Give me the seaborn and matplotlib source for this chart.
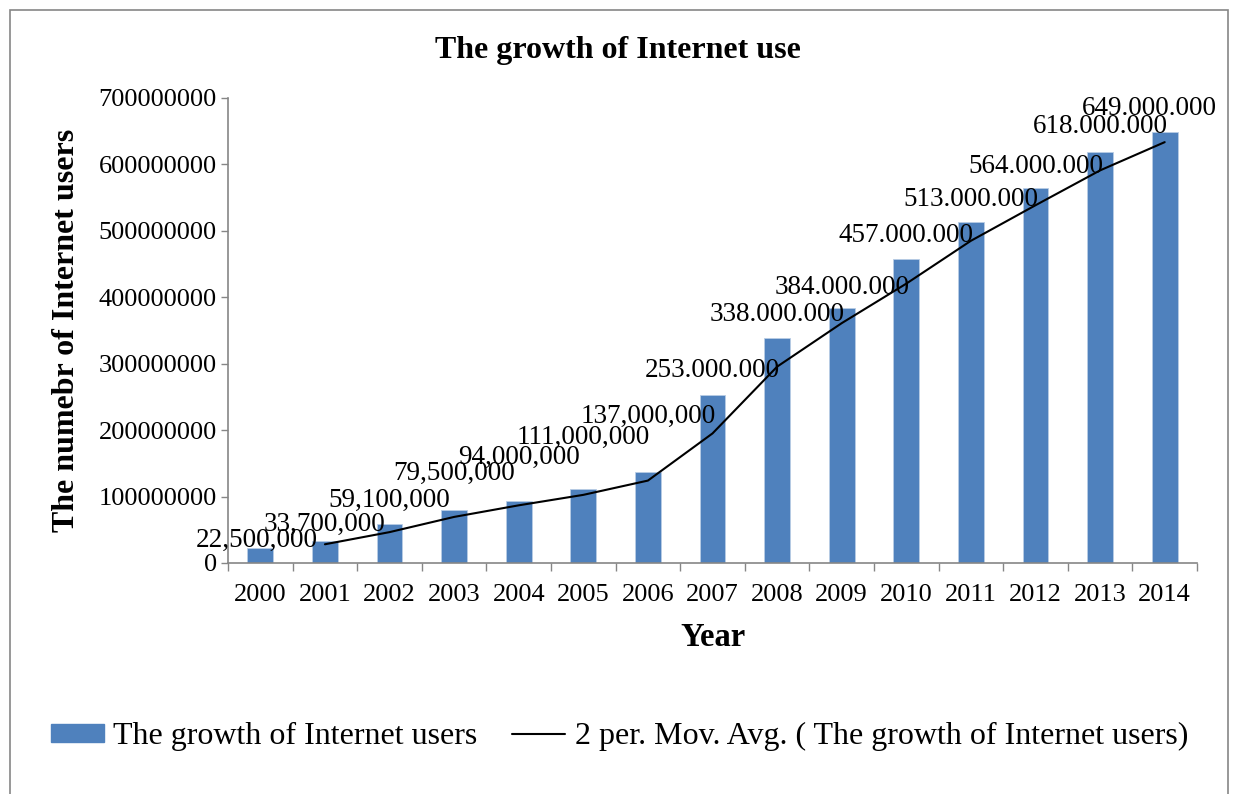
import numpy as np
import pandas as pd
import matplotlib.pyplot as plt
import seaborn as sns
from matplotlib.patches import Rectangle, Patch
from matplotlib.lines import Line2D
from matplotlib.ticker import FixedLocator

years = ["2000", "2001", "2002", "2003", "2004", "2005", "2006", "2007",
         "2008", "2009", "2010", "2011", "2012", "2013", "2014"]
users = [22500000, 33700000, 59100000, 79500000, 94000000, 111000000, 137000000,
         253000000, 338000000, 384000000, 457000000, 513000000, 564000000,
         618000000, 649000000]
labels = ["22,500,000", "33,700,000", "59,100,000", "79,500,000", "94,000,000",
          "111,000,000", "137,000,000", "253.000.000", "338.000.000", "384.000.000",
          "457.000.000", "513.000.000", "564.000.000", "618.000.000", "649.000.000"]
y_ticks = [0, 100000000, 200000000, 300000000, 400000000, 500000000, 600000000, 700000000]

# label placement (pixels above bar top / sideways), as dragged around in the original
label_dy = [1, 10, 17, 30, 37, 45, 49, 18, 17, 14, 17, 16, 15, 19, 17]
label_dx = [-4, 0, 0, 0, 0, 0, 0, 0, 0, 0, 0, 0, 0, 0, -15]

bar_color = "#4F81BD"
axis_gray = "#868686"

sns.set_style("white")
plt.rcParams['font.family'] = ['Liberation Serif', 'DejaVu Serif']
plt.rcParams['text.color'] = 'black'
plt.rcParams['axes.labelcolor'] = 'black'
plt.rcParams['xtick.color'] = 'black'
plt.rcParams['ytick.color'] = 'black'

df = pd.DataFrame({"year": years, "users": users})
df["mov_avg"] = df["users"].rolling(2).mean()

fig = plt.figure(figsize=(12.34, 7.94), dpi=100)
ax = fig.add_axes([0.1848, 0.291, 0.7852, 0.5856])

sns.barplot(data=df, x="year", y="users", color=bar_color, width=0.4,
            edgecolor="#B9CDE5", linewidth=0.6, saturation=1, ax=ax)
sns.lineplot(x=np.arange(len(df)), y=df["mov_avg"], color="black", linewidth=1.5, ax=ax)

px = 72 / 100
for i, (v, lab) in enumerate(zip(users, labels)):
    ax.annotate(lab, (i, v), xytext=(label_dx[i] * px, label_dy[i] * px),
                textcoords="offset points", ha="center", va="baseline", fontsize=19.5)

ax.set_xlim(-0.5, len(years) - 0.5)
ax.set_ylim(0, 700000000)
ax.set_yticks(y_ticks)
ax.set_yticklabels([str(t) for t in y_ticks])
ax.tick_params(axis="y", labelsize=19, length=5, width=1, color=axis_gray, pad=3,
               direction="out", left=True)
ax.tick_params(axis="x", which="major", labelsize=19, length=0, pad=15)
ax.xaxis.set_minor_locator(FixedLocator(np.arange(-0.5, len(years), 1.0)))
ax.tick_params(axis="x", which="minor", length=6, width=1, color=axis_gray,
               direction="out", bottom=True)

for s in ["top", "right"]:
    ax.spines[s].set_visible(False)
for s in ["left", "bottom"]:
    ax.spines[s].set_color(axis_gray)
    ax.spines[s].set_linewidth(1.2)

ax.set_xlabel("Year", fontsize=23.5, fontweight="bold", labelpad=12)
ax.set_ylabel("The numebr of Internet users", fontsize=23, fontweight="bold", labelpad=13)
fig.text(0.501, 0.937, "The growth of Internet use", ha="center", va="center",
         fontsize=23, fontweight="bold")

handles = [Patch(facecolor=bar_color, edgecolor=bar_color),
           Line2D([0], [0], color="black", linewidth=1.5)]
fig.legend(handles, ["The growth of Internet users",
                     "2 per. Mov. Avg. ( The growth of Internet users)"],
           loc="center", bbox_to_anchor=(0.502, 0.072), ncol=2, frameon=False,
           fontsize=23, handlelength=1.65, handleheight=0.5, handletextpad=0.3,
           columnspacing=1.1)

fig.patches.append(Rectangle((0.008, -0.05), 0.987, 1.038, transform=fig.transFigure,
                             fill=False, edgecolor=axis_gray, linewidth=1.2))

plt.savefig("out.png", dpi=100)
plt.close()
